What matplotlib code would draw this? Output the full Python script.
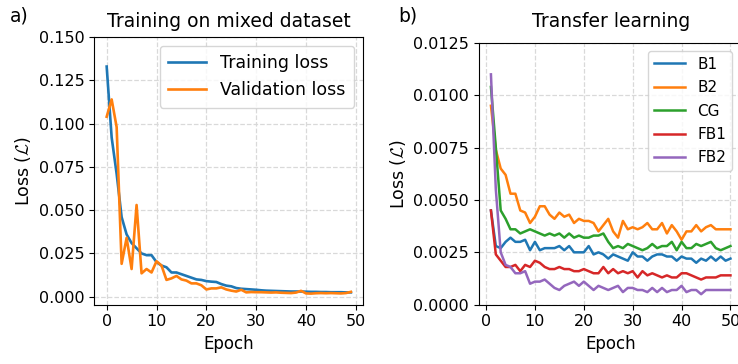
import numpy as np
import matplotlib
matplotlib.use("Agg")
import matplotlib.pyplot as plt

plt.rcParams['font.family'] = ['DejaVu Sans']
plt.rcParams['mathtext.fontset'] = 'cm'
plt.rcParams['font.size'] = 11.5

# a) mixed dataset, epochs 0..49
epochs_a = np.arange(50)
train_loss = [0.133, 0.092, 0.071, 0.046, 0.036, 0.031, 0.028, 0.025, 0.024, 0.024,
              0.020, 0.018, 0.017, 0.014, 0.014, 0.013, 0.012, 0.011, 0.010, 0.0097,
              0.0090, 0.0087, 0.0085, 0.0073, 0.0064, 0.0060, 0.0050, 0.0046, 0.0044, 0.0042,
              0.0040, 0.0037, 0.0035, 0.0034, 0.0033, 0.0032, 0.0031, 0.0030, 0.0030, 0.0030,
              0.0029, 0.0028, 0.0028, 0.0027, 0.0027, 0.0026, 0.0026, 0.0026, 0.0025, 0.0025]
val_loss = [0.104, 0.114, 0.098, 0.019, 0.034, 0.016, 0.053, 0.0135, 0.016, 0.014,
            0.0205, 0.018, 0.0097, 0.0106, 0.012, 0.010, 0.0093, 0.0077, 0.0077, 0.0066,
            0.0042, 0.0048, 0.0048, 0.0054, 0.0042, 0.0035, 0.0030, 0.0040, 0.0025, 0.0027,
            0.0026, 0.0026, 0.0025, 0.0024, 0.0025, 0.0023, 0.0022, 0.0021, 0.0024, 0.0034,
            0.0019, 0.0018, 0.0020, 0.0021, 0.0020, 0.0021, 0.0020, 0.0019, 0.0021, 0.0028]

# b) transfer learning, epochs 1..50
epochs_b = np.arange(1, 51)
b1 = [0.0045, 0.0028, 0.0027, 0.0030, 0.0032, 0.0030, 0.0030, 0.0031, 0.0026, 0.0030,
      0.0026, 0.0027, 0.0027, 0.0027, 0.0028, 0.0026, 0.0028, 0.0025, 0.0025, 0.0025,
      0.0028, 0.0024, 0.0025, 0.0024, 0.0022, 0.0024, 0.0023, 0.0022, 0.0021, 0.0025,
      0.0023, 0.0023, 0.0021, 0.0023, 0.0024, 0.0024, 0.0023, 0.0023, 0.0021, 0.0023,
      0.0022, 0.0022, 0.0020, 0.0022, 0.0021, 0.0023, 0.0021, 0.0023, 0.0021, 0.0022]
b2 = [0.0095, 0.0074, 0.0065, 0.0062, 0.0053, 0.0053, 0.0045, 0.0044, 0.0039, 0.0042,
      0.0047, 0.0047, 0.0043, 0.0041, 0.0044, 0.0042, 0.0043, 0.0039, 0.0041, 0.0040,
      0.0040, 0.0039, 0.0035, 0.0038, 0.0041, 0.0035, 0.0032, 0.0040, 0.0036, 0.0037,
      0.0036, 0.0037, 0.0039, 0.0036, 0.0036, 0.0039, 0.0034, 0.0038, 0.0035, 0.0031,
      0.0035, 0.0035, 0.0038, 0.0035, 0.0037, 0.0038, 0.0036, 0.0036, 0.0036, 0.0036]
cg = [0.0104, 0.0075, 0.0045, 0.0041, 0.0036, 0.0036, 0.0034, 0.0035, 0.0036, 0.0035,
      0.0034, 0.0033, 0.0034, 0.0033, 0.0034, 0.0032, 0.0034, 0.0032, 0.0033, 0.0032,
      0.0032, 0.0033, 0.0033, 0.0034, 0.0030, 0.0027, 0.0028, 0.0027, 0.0029, 0.0028,
      0.0027, 0.0026, 0.0027, 0.0029, 0.0027, 0.0028, 0.0028, 0.0030, 0.0026, 0.0030,
      0.0027, 0.0027, 0.0029, 0.0028, 0.0029, 0.0030, 0.0027, 0.0026, 0.0027, 0.0028]
fb1 = [0.0045, 0.0024, 0.0021, 0.0018, 0.0018, 0.0019, 0.0016, 0.0019, 0.0018, 0.0021,
       0.0020, 0.0018, 0.0017, 0.0017, 0.0018, 0.0017, 0.0017, 0.0016, 0.0016, 0.0017,
       0.0016, 0.0015, 0.0015, 0.0018, 0.0015, 0.0017, 0.0015, 0.0016, 0.0015, 0.0016,
       0.0013, 0.0016, 0.0014, 0.0015, 0.0014, 0.0013, 0.0014, 0.0013, 0.0013, 0.0015,
       0.0015, 0.0014, 0.0013, 0.0012, 0.0013, 0.0013, 0.0013, 0.0014, 0.0014, 0.0014]
fb2 = [0.0110, 0.0055, 0.0025, 0.0019, 0.0018, 0.0015, 0.0015, 0.0016, 0.0010, 0.0011,
       0.0011, 0.0012, 0.0010, 0.0008, 0.0007, 0.0009, 0.0010, 0.0011, 0.0009, 0.0011,
       0.0009, 0.0007, 0.0009, 0.0008, 0.0007, 0.0008, 0.0009, 0.0006, 0.0008, 0.0008,
       0.0007, 0.0007, 0.0006, 0.0008, 0.0006, 0.0008, 0.0006, 0.0007, 0.0007, 0.0009,
       0.0006, 0.0007, 0.0007, 0.0005, 0.0007, 0.0007, 0.0007, 0.0007, 0.0007, 0.0007]
series_b = [("B1", b1), ("B2", b2), ("CG", cg), ("FB1", fb1), ("FB2", fb2)]

fig = plt.figure(figsize=(7.38, 3.64), dpi=100)
ax1 = fig.add_axes([0.128, 0.163, 0.364, 0.735])
ax2 = fig.add_axes([0.649, 0.163, 0.357, 0.719])

ax1.plot(epochs_a, train_loss, lw=1.9, label="Training loss")
ax1.plot(epochs_a, val_loss, lw=1.9, label="Validation loss")
ax1.set_ylim(-0.0046, 0.150)
ax1.set_yticks([0, 0.025, 0.05, 0.075, 0.1, 0.125, 0.15])
ax1.set_xticks([0, 10, 20, 30, 40, 50])
ax1.set_title("Training on mixed dataset", fontsize=13.5, pad=7)
ax1.set_xlabel("Epoch", fontsize=12)
ax1.set_ylabel(r"Loss ($\mathcal{L}$)", fontsize=12.5)
ax1.grid(True, ls="--", color="#d9d9d9", lw=0.9)
ax1.legend(loc="upper right", fontsize=12.5, handlelength=2.2, borderpad=0.5,
           labelspacing=0.5)

for name, vals in series_b:
    ax2.plot(epochs_b, vals, lw=1.8, label=name)
ax2.set_ylim(0, 0.0125)
ax2.set_yticks([0, 0.0025, 0.005, 0.0075, 0.01, 0.0125])
ax2.set_xticks([0, 10, 20, 30, 40, 50])
ax2.set_title("Transfer learning", fontsize=13.5, pad=11.5)
ax2.set_xlabel("Epoch", fontsize=12)
ax2.set_ylabel(r"Loss ($\mathcal{L}$)", fontsize=12.5)
ax2.grid(True, ls="--", color="#d9d9d9", lw=0.9)
ax2.legend(loc="upper right", fontsize=11, bbox_to_anchor=(0.99, 1.0),
           labelspacing=0.55)

fig.text(0.013, 0.955, "a)", fontsize=13.5, va="center")
fig.text(0.54, 0.955, "b)", fontsize=13.5, va="center")

fig.savefig("out.png", dpi=100)
